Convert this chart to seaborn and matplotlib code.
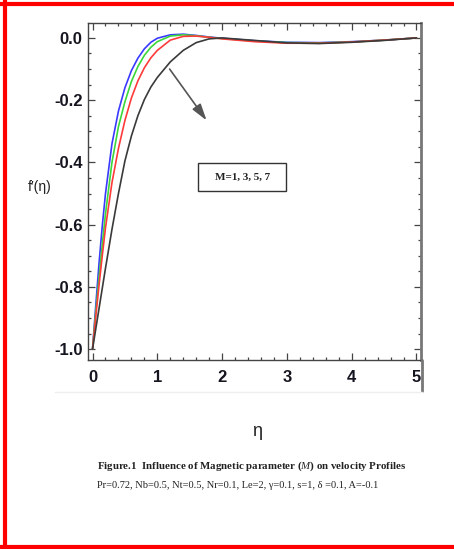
import numpy as np
import pandas as pd
import matplotlib
matplotlib.use("Agg")
import matplotlib.pyplot as plt
from matplotlib.lines import Line2D
from matplotlib.patches import Rectangle
from matplotlib.ticker import MultipleLocator, FuncFormatter
import seaborn as sns

# similarity variable
eta = [0.0, 0.05, 0.1, 0.15, 0.2, 0.3, 0.4, 0.5, 0.6, 0.7, 0.8, 0.9, 1.0,
       1.2, 1.4, 1.6, 1.8, 2.0, 2.5, 3.0, 3.5, 4.0, 4.5, 5.0]

# velocity profiles f'(eta) for each magnetic parameter
f_M1 = [-1.0, -0.86, -0.725, -0.605, -0.50, -0.34, -0.235, -0.16, -0.105, -0.065, -0.035, -0.014, -0.001,
        0.010, 0.012, 0.008, 0.003, -0.001, -0.009, -0.014, -0.015, -0.012, -0.007, 0.0]
f_M3 = [-1.0, -0.88, -0.77, -0.665, -0.565, -0.40, -0.285, -0.205, -0.14, -0.092, -0.056, -0.03, -0.012,
        0.006, 0.010, 0.007, 0.002, -0.002, -0.010, -0.015, -0.016, -0.013, -0.007, 0.0]
f_M5 = [-1.0, -0.895, -0.795, -0.70, -0.61, -0.465, -0.355, -0.265, -0.193, -0.138, -0.096, -0.064, -0.04,
        -0.007, 0.005, 0.006, 0.002, -0.003, -0.012, -0.017, -0.017, -0.013, -0.007, 0.0]
f_M7 = [-1.0, -0.935, -0.87, -0.805, -0.74, -0.615, -0.50, -0.395, -0.315, -0.25, -0.198, -0.158, -0.127,
        -0.077, -0.04, -0.015, -0.003, 0.0, -0.008, -0.016, -0.018, -0.014, -0.008, 0.0]

M_values = ["1", "3", "5", "7"]
profiles = [f_M1, f_M3, f_M5, f_M7]
line_colors = ["#3a3aff", "#3ad83a", "#ff3a3a", "#3a3a3a"]

x_ticks = [0, 1, 2, 3, 4, 5]
y_ticks = [0.0, -0.2, -0.4, -0.6, -0.8, -1.0]

frames = []
for m, prof in zip(M_values, profiles):
    frames.append(pd.DataFrame({"eta": eta, "f": prof, "M": m}))
df = pd.concat(frames, ignore_index=True)

sns.set_style("white")
plt.rcParams["axes.unicode_minus"] = False
plt.rcParams["font.family"] = ["Liberation Sans Narrow", "Liberation Sans", "DejaVu Sans"]
plt.rcParams["mathtext.fontset"] = "custom"
plt.rcParams["mathtext.it"] = "Liberation Serif:italic"
plt.rcParams["mathtext.rm"] = "Liberation Serif"

serif = ["Liberation Serif", "DejaVu Serif"]

W, H = 454, 549
fig = plt.figure(figsize=(W / 100, H / 100), dpi=100)
ax = fig.add_axes([88 / W, 1 - 360 / H, 333 / W, 337 / H])

sns.lineplot(data=df, x="eta", y="f", hue="M", palette=line_colors,
             estimator=None, sort=False, linewidth=1.2, legend=False, ax=ax)

ax.set_xlim(-0.07, 5.07)
ax.set_ylim(-1.035, 0.048)
ax.set_xlabel("")
ax.set_ylabel("")

ax.set_xticks(x_ticks)
ax.set_yticks(y_ticks)
ax.xaxis.set_minor_locator(MultipleLocator(0.2))
ax.yaxis.set_minor_locator(MultipleLocator(0.05))
ax.yaxis.set_major_formatter(FuncFormatter(lambda v, p: f"{v:.1f}".replace("-0.0", "0.0")))
ax.tick_params(which="both", direction="in", top=True, right=True,
               bottom=True, left=True, color="#444444", width=0.9)
ax.tick_params(which="major", length=5)
ax.tick_params(which="minor", length=2.5)
for lab in ax.get_xticklabels() + ax.get_yticklabels():
    lab.set_fontweight("bold")
    lab.set_fontsize(12)
    lab.set_color("#151520")
ax.tick_params(axis="x", pad=7)
ax.tick_params(axis="y", pad=4)

for side in ["left", "bottom", "top"]:
    ax.spines[side].set_color("#444444")
    ax.spines[side].set_linewidth(1.0)
ax.spines["right"].set_color("#777777")
ax.spines["right"].set_linewidth(2.0)

# extended right frame line below the plot
fig.add_artist(Line2D([422 / W, 422 / W], [1 - 360 / H, 1 - 391 / H],
                      color="#777777", linewidth=2.0))
fig.add_artist(Line2D([55 / W, 422 / W], [1 - 392 / H, 1 - 392 / H],
                      color="#eeeeee", linewidth=1.0))

# arrow showing increasing M
ax.annotate("", xy=(1.76, -0.265), xytext=(1.19, -0.10),
            arrowprops=dict(arrowstyle="-|>,head_length=1.0,head_width=0.3",
                            color="#555555", lw=1.2,
                            shrinkA=0, shrinkB=0))
ax.add_patch(Rectangle((1.63, -0.493), 1.36, 0.092, fill=False,
                       edgecolor="#333333", linewidth=1.0))
ax.text(2.31, -0.447, "M=1, 3, 5, 7", ha="center", va="center",
        fontsize=8, fontweight="bold", family=serif, color="#222222")

# axis labels
fig.text(40 / W, 1 - 187 / H, "f\u2032(\u03b7)", ha="center", va="center",
         fontsize=10, color="#222222")
fig.text(257 / W, 1 - 432 / H, "\u03b7", ha="center", va="center",
         fontsize=13, color="#222222")

# caption
fig.text(97 / W, 1 - 466 / H,
         "Figure.1  Influence of Magnetic parameter ($M$) on velocity Profiles",
         ha="left", va="center", fontsize=7.8, fontweight="bold",
         family=serif, color="#222222")
fig.text(97 / W, 1 - 485 / H,
         "Pr=0.72, Nb=0.5, Nt=0.5, Nr=0.1, Le=2, \u03b3=0.1, s=1, \u03b4 =0.1, A=-0.1",
         ha="left", va="center", fontsize=7.5,
         family=serif, color="#222222")

# red frame on left, top and bottom
red = "#ff0000"
fig.add_artist(Line2D([5 / W, 5 / W], [0, 1], color=red, linewidth=3.0))
fig.add_artist(Line2D([0, 1], [1 - 3.5 / H, 1 - 3.5 / H], color=red, linewidth=3.0))
fig.add_artist(Line2D([0, 1], [1 - 546.5 / H, 1 - 546.5 / H], color=red, linewidth=3.0))

fig.savefig("out.png", dpi=100)
